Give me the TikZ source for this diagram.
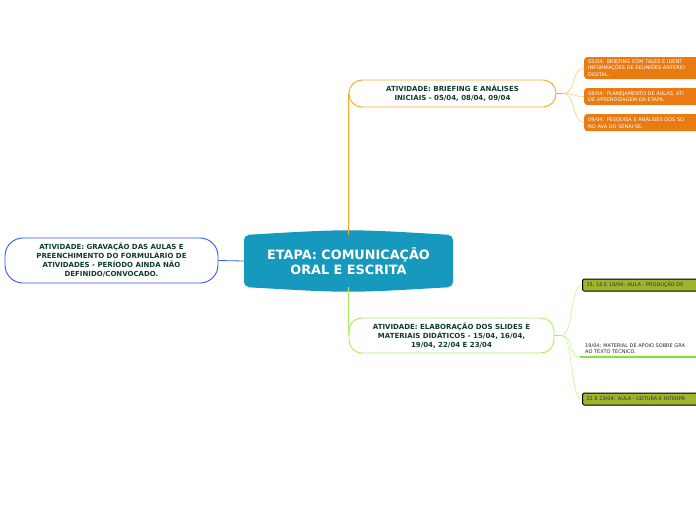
\documentclass[tikz,border=0pt]{standalone}
\usepackage{fontspec}
\setmainfont{DejaVu Sans}
\usetikzlibrary{positioning}
\definecolor{etapateal}{HTML}{1799BE}
\definecolor{textgreen}{HTML}{0F3D2E}
\definecolor{briefline}{HTML}{F9A62A}
\definecolor{brieflight}{HTML}{FFCB7A}
\definecolor{brieffill}{HTML}{EA7A12}
\definecolor{slideline}{HTML}{A9EE5C}
\definecolor{slidelight}{HTML}{C4F58E}
\definecolor{slidebar}{HTML}{86E236}
\definecolor{olivefill}{HTML}{9DB42C}
\definecolor{gravline}{HTML}{2F5BE6}

\begin{document}
\begin{tikzpicture}[x=1pt, y=-1pt,
  atividade/.style={draw, line width=0.9pt, fill=white, rounded corners=13pt, align=center,
    text=textgreen, inner sep=0pt, font=\bfseries\fontsize{7}{9}\selectfont},
  obox/.style={fill=brieffill, rounded corners=3pt, text=white, anchor=west, align=left,
    text width=130pt, inner xsep=4pt, inner ysep=0pt, font=\fontsize{5}{6.6}\selectfont},
  gbox/.style={draw=black, line width=1pt, fill=olivefill, rounded corners=1.5pt, text=black!80,
    anchor=west, align=left, text width=130pt, inner xsep=4pt, inner ysep=0pt,
    minimum height=12pt, font=\fontsize{5}{6.6}\selectfont},
  twig/.style={line width=0.6pt}]
  \useasboundingbox (0,0) rectangle (696,520);
  \clip (0,0) rectangle (696,520);
  \fill[white] (0,0) rectangle (696,520);

  % central topic
  \node[fill=etapateal, rounded corners=5pt, minimum width=209pt, minimum height=52pt,
    text=white, align=center, font=\bfseries\fontsize{12.8}{15.5}\selectfont]
    (etapa) at (348.5,261) {ETAPA: COMUNICAÇÃO\\ORAL E ESCRITA};
  \fill[etapateal] ([xshift=4pt]etapa.north west) .. controls ([yshift=6pt]etapa.north)
    .. ([xshift=-4pt]etapa.north east) -- cycle;
  \fill[etapateal] ([xshift=4pt]etapa.south west) .. controls ([yshift=-6pt]etapa.south)
    .. ([xshift=-4pt]etapa.south east) -- cycle;

  % main branches
  \node[atividade, draw=briefline, minimum width=207pt, minimum height=27pt]
    (briefing) at (452.5,93.5) {ATIVIDADE: BRIEFING E ANÁLISES\\INICIAIS - 05/04, 08/04, 09/04};
  \node[atividade, draw=slideline, minimum width=205pt, minimum height=35pt]
    (slides) at (451.5,335.5) {ATIVIDADE: ELABORAÇÃO DOS SLIDES E\\MATERIAIS DIDÁTICOS - 15/04, 16/04,\\19/04, 22/04 E 23/04};
  \node[atividade, draw=gravline, rounded corners=18pt, minimum width=213pt, minimum height=45pt]
    (gravacao) at (111.5,260.5) {ATIVIDADE: GRAVAÇÃO DAS AULAS E\\PREENCHIMENTO DO FORMULÁRIO DE\\ATIVIDADES - PERÍODO AINDA NÃO\\DEFINIDO/CONVOCADO.};

  \draw[briefline, line width=1pt] (etapa.north) -- (briefing.west);
  \draw[slideline, line width=1pt] (etapa.south) -- (slides.west);
  \draw[gravline, line width=0.8pt] (gravacao.east) -- (etapa.west);

  % briefing items
  \node[obox, minimum height=22pt] (dia05) at (584,68) {05/04: BRIEFING COM TALES E IDENT\\INFORMAÇÕES DE REUNIÕES ANTERIO\\DIGITAL.};
  \node[obox, minimum height=17pt] (dia08) at (584,96.5) {08/04: PLANEJAMENTO DE AULAS, ATI\\DE APRENDIZAGEM DA ETAPA.};
  \node[obox, minimum height=17pt] (dia09) at (584,122.5) {09/04: PESQUISA E ANÁLISES DOS SO\\NO AVA DO SENAI-SE.};

  \draw[briefline, line width=1pt] (briefing.east) -- ++(7,0) coordinate (bfork);
  \foreach \item in {dia05, dia08, dia09}
    \draw[brieflight, twig] (bfork) .. controls +(12,0) and +(-12,0) .. (\item.west);

  % slides items
  \node[gbox] (aula15) at (582,285) {15, 16 E 19/04: AULA - PRODUÇÃO DE};
  \node[anchor=south west, align=left, text=black!85, inner xsep=5pt, inner ysep=2pt,
    font=\fontsize{5}{6.6}\selectfont] (apoio) at (580,356) {19/04: MATERIAL DE APOIO SOBRE GRA\\AO TEXTO TÉCNICO.};
  \coordinate (apoiobar) at (580,357);
  \draw[slidebar, line width=1.6pt] (apoiobar) -- ++(130,0);
  \node[gbox] (aula22) at (582,399) {22 E 23/04: AULA - LEITURA E INTERPR};

  \draw[slideline, line width=1pt] (slides.east) -- ++(7,0) coordinate (sfork);
  \foreach \item in {aula15.west, apoiobar, aula22.west}
    \draw[slidelight, twig] (sfork) .. controls +(12,0) and +(-12,0) .. (\item);
\end{tikzpicture}
\end{document}
